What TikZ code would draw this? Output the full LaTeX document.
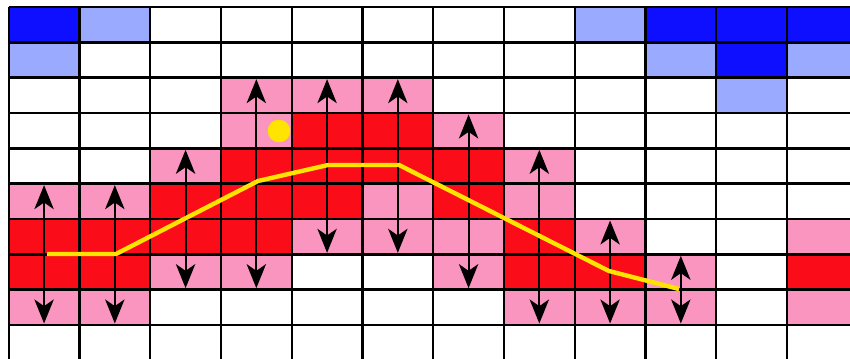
\documentclass[tikz,border=0pt]{standalone}
\usetikzlibrary{arrows.meta}
\definecolor{colB}{RGB}{15,15,255}
\definecolor{colL}{RGB}{153,170,255}
\definecolor{colW}{RGB}{255,255,255}
\definecolor{colP}{RGB}{249,149,190}
\definecolor{colR}{RGB}{250,12,25}
\definecolor{colY}{RGB}{255,228,0}
\begin{document}
\begin{tikzpicture}[x=0.75pt,y=-0.75pt,
  gridline/.style={black,line width=1.8pt},
  updown/.style={black,line width=1.5pt,{Stealth[length=18pt,width=14.5pt,inset=5pt]}-{Stealth[length=18pt,width=14.5pt,inset=5pt]}},
  pathline/.style={colY,line width=3.3pt},
  dot/.style={circle,fill=colY,inner sep=0pt,minimum size=17pt}]
\useasboundingbox (0,0) rectangle (850,358);
\clip (0,0) rectangle (850,358);
\fill[white] (0,0) rectangle (850,358);
% cells
\foreach \row [count=\r from 0] in {
  {B,L,W,W,W,W,W,W,L,B,B,B},
  {L,W,W,W,W,W,W,W,W,L,B,L},
  {W,W,W,P,P,P,W,W,W,W,L,W},
  {W,W,W,P,R,R,P,W,W,W,W,W},
  {W,W,P,R,R,R,R,P,W,W,W,W},
  {P,P,R,R,R,P,R,P,W,W,W,W},
  {R,R,R,R,P,P,P,R,P,W,W,P},
  {R,R,P,P,W,W,P,R,R,P,W,R},
  {P,P,W,W,W,W,W,P,P,P,W,P},
  {W,W,W,W,W,W,W,W,W,W,W,W}} {
  \foreach \c [count=\k from 0] in \row {
    \fill[col\c] ({8.7+70.75*\k},{7+35.33*\r}) rectangle ++(70.75,35.33);
  }
}
% grid
\foreach \k in {0,...,11} \draw[gridline] ({8.7+70.75*\k},7) -- ({8.7+70.75*\k},370);
\foreach \r in {0,...,9} \draw[gridline] (8.7,{7+35.33*\r}) -- (870,{7+35.33*\r});
% arrows
\foreach \k/\a/\b in {0/5/9,1/5/9,2/4/8,3/2/8,4/2/7,5/2/7,6/3/8,7/4/9,8/6/9,9/7/9} {
  \coordinate (t\k) at ({8.7+70.75*(\k+0.5)},{7+35.33*\a+1.5});
  \coordinate (b\k) at ({8.7+70.75*(\k+0.5)},{7+35.33*\b-1.5});
  \draw[updown] (t\k) -- (b\k);
}
% yellow path
\coordinate (p1) at (47,254);
\coordinate (p2) at (116,254);
\coordinate (p3) at (258,181);
\coordinate (p4) at (328,165);
\coordinate (p5) at (399,165);
\coordinate (p6) at (609,271);
\coordinate (p7) at (679,289);
\draw[pathline] (p1) -- (p2) -- (p3) -- (p4) -- (p5) -- (p6) -- (p7);
\node[dot] (d) at (279,131) {};
\end{tikzpicture}
\end{document}
